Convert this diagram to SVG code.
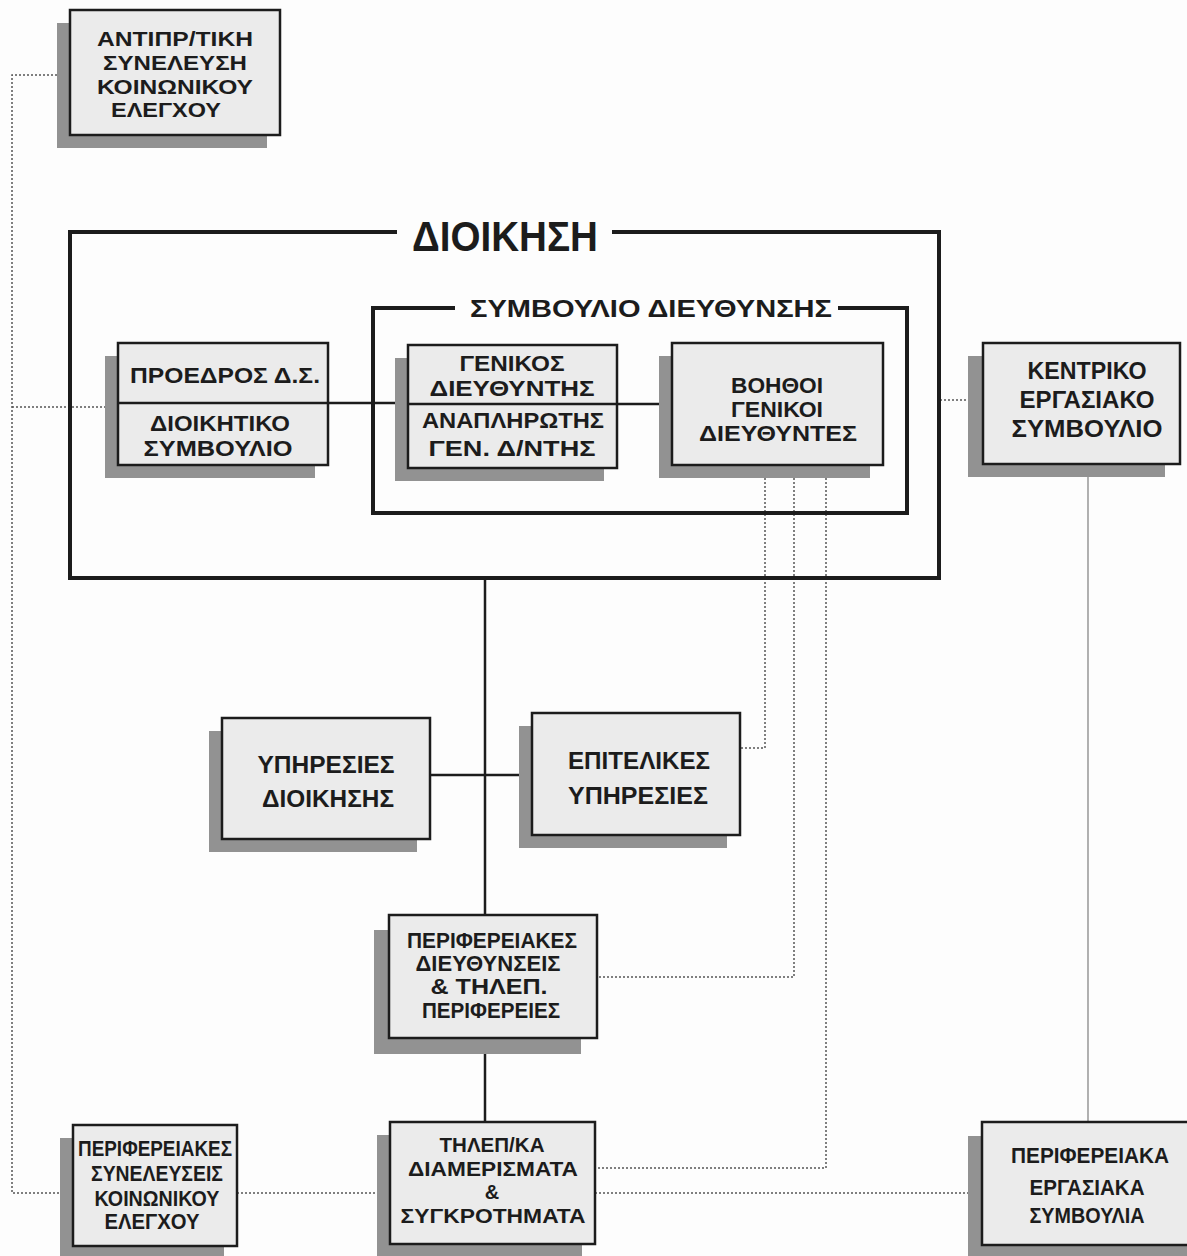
<svg xmlns="http://www.w3.org/2000/svg" width="1187" height="1256" viewBox="0 0 1187 1256">
<style>
.bg{fill:#fdfdfd}
.shadow{fill:#929292}
.box{fill:#ebebeb;stroke:#1c1c1c;stroke-width:2.5}
.frame{fill:none;stroke:#1c1c1c;stroke-width:4}
.solid{fill:none;stroke:#1c1c1c;stroke-width:2.5}
.dot{fill:none;stroke:#555;stroke-width:1.5;stroke-dasharray:2 2}
.thin{fill:none;stroke:#888;stroke-width:1.3}
text{font-family:"Liberation Sans",Arial,sans-serif;font-weight:bold;fill:#1c1c1c;text-anchor:middle}
.s{font-size:20px}
.t{font-size:22px}
.k{font-size:21px}
.l{font-size:24px}
.big{font-size:42px}
.mid{font-size:23px}
</style>
<rect class="bg" x="0" y="0" width="1187" height="1256"/>

<g id="connectors">
  <path class="dot" d="M57 75 H12 V1193 H60"/>
  <path class="dot" d="M12 407 H105"/>
  <path class="dot" d="M765 478 V748 H740"/>
  <path class="dot" d="M794 478 V977 H597"/>
  <path class="dot" d="M826 478 V1168 H595"/>
  <path class="dot" d="M237 1193 H390"/>
  <path class="dot" d="M595 1193 H982"/>
  <path class="dot" d="M940 400 H985"/>
  <path class="thin" d="M1088 465 V1122"/>
  <path class="solid" d="M328 403 H408"/>
  <path class="solid" d="M617 404 H672"/>
  <path class="solid" d="M485 578 V915"/>
  <path class="solid" d="M430 775 H532"/>
  <path class="solid" d="M485 1038 V1122"/>
</g>

<g id="dioikisi">
  <path class="frame" d="M397 232 H70 V578 H939 V232 H612"/>
  <text class="big" x="505" y="251" textLength="186" lengthAdjust="spacingAndGlyphs">ΔΙΟΙΚΗΣΗ</text>
</g>

<g id="symvoulio-dieythynsis">
  <path class="frame" d="M455 308 H373 V513 H907 V308 H838"/>
  <text class="mid" x="651" y="317" textLength="362" lengthAdjust="spacingAndGlyphs">ΣΥΜΒΟΥΛΙΟ ΔΙΕΥΘΥΝΣΗΣ</text>
</g>

<g id="antiprosopeytiki">
  <rect class="shadow" x="57" y="23" width="210" height="125"/>
  <rect class="box" x="70" y="10" width="210" height="125"/>
  <text class="k" x="175" y="46" textLength="156" lengthAdjust="spacingAndGlyphs">ΑΝΤΙΠΡ/ΤΙΚΗ</text>
  <text class="k" x="175" y="70" textLength="144" lengthAdjust="spacingAndGlyphs">ΣΥΝΕΛΕΥΣΗ</text>
  <text class="k" x="175" y="94" textLength="156" lengthAdjust="spacingAndGlyphs">ΚΟΙΝΩΝΙΚΟΥ</text>
  <text class="k" x="166" y="117" textLength="110" lengthAdjust="spacingAndGlyphs">ΕΛΕΓΧΟΥ</text>
</g>

<g id="proedros">
  <rect class="shadow" x="105" y="356" width="210" height="122"/>
  <rect class="box" x="118" y="343" width="210" height="122"/>
  <line class="solid" x1="118" y1="403" x2="328" y2="403"/>
  <text class="t" x="225" y="383" textLength="190" lengthAdjust="spacingAndGlyphs">ΠΡΟΕΔΡΟΣ Δ.Σ.</text>
  <text class="t" x="220" y="431" textLength="140" lengthAdjust="spacingAndGlyphs">ΔΙΟΙΚΗΤΙΚΟ</text>
  <text class="t" x="218" y="456" textLength="149" lengthAdjust="spacingAndGlyphs">ΣΥΜΒΟΥΛΙΟ</text>
</g>

<g id="genikos">
  <rect class="shadow" x="395" y="358" width="209" height="123"/>
  <rect class="box" x="408" y="345" width="209" height="123"/>
  <line class="solid" x1="408" y1="404" x2="617" y2="404"/>
  <text class="t" x="512" y="371" textLength="105" lengthAdjust="spacingAndGlyphs">ΓΕΝΙΚΟΣ</text>
  <text class="t" x="512" y="396" textLength="165" lengthAdjust="spacingAndGlyphs">ΔΙΕΥΘΥΝΤΗΣ</text>
  <text class="t" x="513" y="428" textLength="182" lengthAdjust="spacingAndGlyphs">ΑΝΑΠΛΗΡΩΤΗΣ</text>
  <text class="t" x="512" y="456" textLength="167" lengthAdjust="spacingAndGlyphs">ΓΕΝ.  Δ/ΝΤΗΣ</text>
</g>

<g id="voithoi">
  <rect class="shadow" x="659" y="356" width="211" height="122"/>
  <rect class="box" x="672" y="343" width="211" height="122"/>
  <text class="t" x="777" y="393" textLength="92" lengthAdjust="spacingAndGlyphs">ΒΟΗΘΟΙ</text>
  <text class="t" x="777" y="417" textLength="92" lengthAdjust="spacingAndGlyphs">ΓΕΝΙΚΟΙ</text>
  <text class="t" x="778" y="441" textLength="158" lengthAdjust="spacingAndGlyphs">ΔΙΕΥΘΥΝΤΕΣ</text>
</g>

<g id="kentriko">
  <rect class="shadow" x="968" y="356" width="197" height="121"/>
  <rect class="box" x="983" y="343" width="197" height="121"/>
  <text class="l" x="1087" y="379" textLength="119" lengthAdjust="spacingAndGlyphs">ΚΕΝΤΡΙΚΟ</text>
  <text class="l" x="1087" y="408" textLength="135" lengthAdjust="spacingAndGlyphs">ΕΡΓΑΣΙΑΚΟ</text>
  <text class="l" x="1087" y="437" textLength="151" lengthAdjust="spacingAndGlyphs">ΣΥΜΒΟΥΛΙΟ</text>
</g>

<g id="ypiresies-dioikisis">
  <rect class="shadow" x="209" y="731" width="208" height="121"/>
  <rect class="box" x="222" y="718" width="208" height="121"/>
  <text class="l" x="326" y="773" textLength="137" lengthAdjust="spacingAndGlyphs">ΥΠΗΡΕΣΙΕΣ</text>
  <text class="l" x="328" y="807" textLength="132" lengthAdjust="spacingAndGlyphs">ΔΙΟΙΚΗΣΗΣ</text>
</g>

<g id="epitelikes">
  <rect class="shadow" x="519" y="726" width="208" height="122"/>
  <rect class="box" x="532" y="713" width="208" height="122"/>
  <text class="l" x="639" y="769" textLength="142" lengthAdjust="spacingAndGlyphs">ΕΠΙΤΕΛΙΚΕΣ</text>
  <text class="l" x="638" y="804" textLength="140" lengthAdjust="spacingAndGlyphs">ΥΠΗΡΕΣΙΕΣ</text>
</g>

<g id="perifereiakes-dieythynseis">
  <rect class="shadow" x="374" y="930" width="207" height="124"/>
  <rect class="box" x="389" y="915" width="208" height="123"/>
  <text class="t" x="492" y="948" textLength="170" lengthAdjust="spacingAndGlyphs">ΠΕΡΙΦΕΡΕΙΑΚΕΣ</text>
  <text class="t" x="488" y="971" textLength="145" lengthAdjust="spacingAndGlyphs">ΔΙΕΥΘΥΝΣΕΙΣ</text>
  <text class="t" x="489" y="994" textLength="117" lengthAdjust="spacingAndGlyphs">&amp; ΤΗΛΕΠ.</text>
  <text class="t" x="491" y="1018" textLength="138" lengthAdjust="spacingAndGlyphs">ΠΕΡΙΦΕΡΕΙΕΣ</text>
</g>

<g id="tilepikoinoniaka">
  <rect class="shadow" x="377" y="1135" width="205" height="121"/>
  <rect class="box" x="390" y="1122" width="205" height="122"/>
  <text class="s" x="492" y="1152" textLength="105" lengthAdjust="spacingAndGlyphs">ΤΗΛΕΠ/ΚΑ</text>
  <text class="s" x="493" y="1176" textLength="170" lengthAdjust="spacingAndGlyphs">ΔΙΑΜΕΡΙΣΜΑΤΑ</text>
  <text class="s" x="492" y="1199">&amp;</text>
  <text class="s" x="493" y="1223" textLength="185" lengthAdjust="spacingAndGlyphs">ΣΥΓΚΡΟΤΗΜΑΤΑ</text>
</g>

<g id="perifereiakes-syneleyseis">
  <rect class="shadow" x="60" y="1138" width="164" height="118"/>
  <rect class="box" x="73" y="1125" width="164" height="121"/>
  <text class="t" x="155" y="1156" textLength="154" lengthAdjust="spacingAndGlyphs">ΠΕΡΙΦΕΡΕΙΑΚΕΣ</text>
  <text class="t" x="157" y="1181" textLength="132" lengthAdjust="spacingAndGlyphs">ΣΥΝΕΛΕΥΣΕΙΣ</text>
  <text class="t" x="157" y="1206" textLength="125" lengthAdjust="spacingAndGlyphs">ΚΟΙΝΩΝΙΚΟΥ</text>
  <text class="t" x="152" y="1229" textLength="95" lengthAdjust="spacingAndGlyphs">ΕΛΕΓΧΟΥ</text>
</g>

<g id="perifereiaka-ergasiaka">
  <rect class="shadow" x="968" y="1136" width="219" height="120"/>
  <rect class="box" x="982" y="1122" width="215" height="123"/>
  <text class="t" x="1090" y="1163" textLength="158" lengthAdjust="spacingAndGlyphs">ΠΕΡΙΦΕΡΕΙΑΚΑ</text>
  <text class="t" x="1087" y="1195" textLength="115" lengthAdjust="spacingAndGlyphs">ΕΡΓΑΣΙΑΚΑ</text>
  <text class="t" x="1087" y="1223" textLength="115" lengthAdjust="spacingAndGlyphs">ΣΥΜΒΟΥΛΙΑ</text>
</g>
</svg>
